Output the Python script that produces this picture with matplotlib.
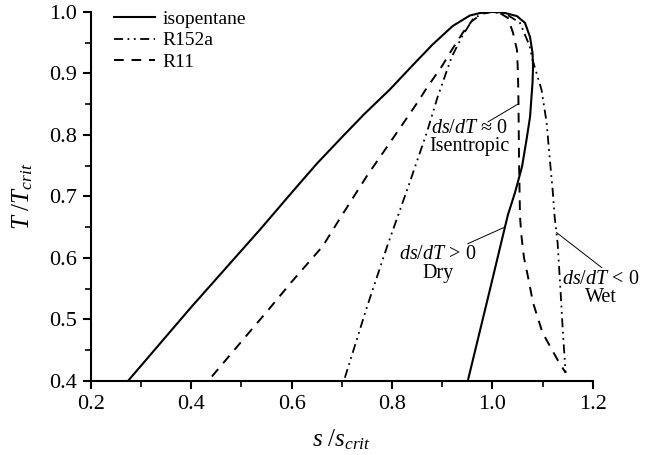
import numpy as np
import matplotlib
matplotlib.use("Agg")
import matplotlib.pyplot as plt
from matplotlib.ticker import MultipleLocator

plt.rcParams['font.family'] = ['Liberation Serif', 'DejaVu Serif']
plt.rcParams['mathtext.fontset'] = 'custom'
plt.rcParams['mathtext.rm'] = 'Liberation Serif'
plt.rcParams['mathtext.it'] = 'Liberation Serif:italic'

# saturation domes, reduced entropy vs reduced temperature
iso_s = [0.274, 0.40, 0.537, 0.60, 0.65, 0.70, 0.745, 0.796, 0.841, 0.881, 0.921,
         0.955, 0.975, 0.995, 1.021, 1.049, 1.065, 1.075, 1.080, 1.081, 1.080,
         1.075, 1.068, 1.059, 1.045, 1.031, 1.025, 0.995, 0.951]
iso_T = [0.40, 0.52, 0.646, 0.706, 0.753, 0.796, 0.834, 0.874, 0.913, 0.947, 0.977,
         0.994, 0.998, 1.0, 0.999, 0.993, 0.982, 0.959, 0.933, 0.911, 0.885,
         0.829, 0.792, 0.748, 0.706, 0.67, 0.65, 0.548, 0.40]

r152_s = [0.706, 0.75, 0.79, 0.835, 0.869, 0.891, 0.919, 0.941, 0.961, 0.981, 1.0,
          1.03, 1.055, 1.074, 1.08, 1.098, 1.108, 1.114, 1.12, 1.124, 1.13, 1.136,
          1.141, 1.146]
r152_T = [0.405, 0.52, 0.618, 0.722, 0.803, 0.862, 0.927, 0.962, 0.988, 0.998, 1.0,
          0.995, 0.982, 0.945, 0.922, 0.873, 0.82, 0.764, 0.711, 0.667, 0.624, 0.543,
          0.472, 0.413]

r11_s = [0.441, 0.50, 0.55, 0.60, 0.662, 0.70, 0.749, 0.782, 0.815, 0.851, 0.869,
         0.899, 0.919, 0.941, 0.959, 0.98, 1.0, 1.015, 1.031, 1.041, 1.049, 1.051,
         1.052, 1.053, 1.055, 1.058, 1.063, 1.071, 1.081, 1.10, 1.13, 1.146]
r11_T = [0.407, 0.464, 0.512, 0.561, 0.619, 0.669, 0.732, 0.771, 0.810, 0.853, 0.876,
         0.911, 0.938, 0.966, 0.985, 0.997, 1.0, 0.998, 0.99, 0.966, 0.938, 0.90,
         0.852, 0.764, 0.667, 0.635, 0.60, 0.569, 0.527, 0.478, 0.434, 0.413]

fig = plt.figure(figsize=(6.45, 4.55), dpi=100)
ax = fig.add_axes([0.141, 0.163, 0.778, 0.811])

ax.plot(iso_s, iso_T, color='black', lw=1.5, label='isopentane')
ax.plot(r152_s, r152_T, color='black', lw=1.3,
        dashes=[5, 2.5, 1, 2.5, 1, 2.5], label='R152a')
ax.plot(r11_s, r11_T, color='black', lw=1.4, dashes=[5, 4], label='R11')

ax.set_xlim(0.2, 1.2)
ax.set_ylim(0.4, 1.0)
ax.xaxis.set_major_locator(MultipleLocator(0.2))
ax.xaxis.set_minor_locator(MultipleLocator(0.1))
ax.yaxis.set_major_locator(MultipleLocator(0.1))
ax.yaxis.set_minor_locator(MultipleLocator(0.05))
ax.xaxis.set_major_formatter(lambda v, p: f'{v:.1f}')
ax.yaxis.set_major_formatter(lambda v, p: f'{v:.1f}')

for side in ['top', 'right']:
    ax.spines[side].set_visible(False)
for side in ['left', 'bottom']:
    ax.spines[side].set_linewidth(1.5)
ax.tick_params(which='major', direction='out', length=6, width=1.5, labelsize=16,
               pad=4)
ax.tick_params(which='minor', direction='out', length=4, width=1.2)

ax.set_xlabel(r'$s\ /s_{crit}$', fontsize=18, labelpad=10)
ax.set_ylabel(r'$T\ /T_{crit}$', fontsize=18, labelpad=10)

leg = ax.legend(loc='upper left', frameon=False, fontsize=14, handlelength=2.1,
                handletextpad=0.4, labelspacing=0.2, borderaxespad=0.0,
                bbox_to_anchor=(0.03, 1.025))

# annotations for the three fluid types
fs = 14.5
ax.text(0.955, 0.811, r'$ds/dT$' + ' ≈ 0', ha='center', va='center', fontsize=fs)
ax.text(0.955, 0.781, 'Isentropic', ha='center', va='center', fontsize=fs)
ax.plot([0.991, 1.051], [0.821, 0.85], color='black', lw=0.7)

ax.text(0.891, 0.605, r'$ds/dT$' + ' > 0', ha='center', va='center', fontsize=fs)
ax.text(0.891, 0.575, 'Dry', ha='center', va='center', fontsize=fs)
ax.plot([0.951, 1.025], [0.623, 0.650], color='black', lw=0.7)

ax.text(1.216, 0.564, r'$ds/dT$' + ' < 0', ha='center', va='center', fontsize=fs,
        clip_on=False)
ax.text(1.216, 0.535, 'Wet', ha='center', va='center', fontsize=fs, clip_on=False)
ax.plot([1.128, 1.218], [0.641, 0.584], color='black', lw=0.7, clip_on=False)

fig.savefig('out.png', dpi=100)
